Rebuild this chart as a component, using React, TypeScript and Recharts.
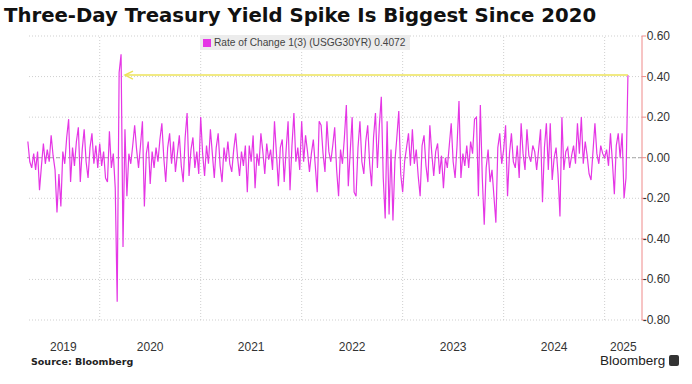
import {
  LineChart,
  Line,
  XAxis,
  YAxis,
  ReferenceLine,
} from "recharts";

// weekly 3-day rate of change of the 30Y Treasury yield
const v2019 = [
  0.08, -0.02, -0.05, 0.02, -0.06, 0.03, -0.16, -0.04, 0.07, -0.03, 0.04, -0.02, 0.11,
  0.01, -0.06, -0.27, -0.08, -0.24, 0.03, -0.03, 0.10, 0.19, -0.12, 0.05, -0.04, 0.08,
  0.15, -0.12, 0.04, 0.14, -0.02, -0.10, 0.05, 0.12, -0.03, 0.06, -0.05,
];
const v2020 = [
  0.07, -0.04, 0.03, -0.10, -0.12, 0.13, -0.05, 0.02, -0.15, -0.71, 0.42, 0.51, -0.44,
  0.14, -0.19, 0.02, -0.03, 0.06, 0.16, 0.04, -0.05, 0.06, 0.18, -0.24, 0.02, 0.08,
  -0.13, 0.03, -0.05, 0.05, -0.02, 0.09, 0.17, 0.0, -0.12, 0.05, 0.12, -0.03, 0.08,
  -0.07, 0.02, 0.11, -0.04, -0.12, 0.10, 0.22, -0.09, 0.04, 0.10, -0.05, 0.03, -0.08,
];
const v2021 = [
  0.20, 0.02, -0.09, 0.06, -0.03, 0.14, 0.02, -0.10, 0.05, 0.12, -0.04, -0.12, 0.05,
  -0.02, 0.08, -0.03, -0.07, 0.04, 0.12, 0.0, -0.09, 0.03, -0.04, 0.06, -0.17, 0.06,
  -0.02, 0.11, -0.15, 0.02, -0.04, 0.12, 0.03, -0.08, 0.07, -0.01, 0.04, -0.06, 0.18,
  0.02, -0.14, 0.05, 0.09, -0.12, 0.04, 0.18, -0.16, 0.06, 0.22, -0.02, 0.05, -0.06,
];
const v2022 = [
  0.18, -0.02, 0.11, 0.03, -0.07, 0.02, 0.09, -0.04, -0.17, 0.18, 0.16, 0.02, -0.07,
  0.18, 0.03, -0.02, 0.06, 0.15, -0.06, -0.19, 0.04, -0.03, 0.10, 0.26, -0.14, 0.03,
  0.20, -0.17, -0.19, 0.05, 0.18, -0.02, -0.08, 0.08, 0.16, -0.03, -0.14, 0.10, 0.22,
  -0.05, 0.16, 0.30, -0.10, -0.30, 0.18, -0.28, 0.04, -0.31, -0.02, 0.10, 0.23, -0.08,
];
const v2023 = [
  -0.17, -0.02, 0.05, 0.12, -0.04, 0.14, -0.03, 0.04, -0.09, -0.19, 0.06, 0.11, -0.04,
  -0.12, 0.16, 0.02, -0.09, 0.03, 0.07, -0.08, 0.01, -0.15, 0.0, -0.05, 0.06, 0.17,
  -0.02, -0.10, 0.06, 0.28, -0.10, 0.02, -0.04, 0.06, -0.05, 0.08, 0.02, 0.19, 0.20,
  -0.19, 0.26, -0.10, -0.33, -0.05, 0.04, -0.12, -0.06, -0.19, -0.32, 0.05, 0.12, -0.03,
];
const v2024 = [
  0.04, 0.16, -0.19, 0.02, 0.12, -0.02, -0.05, 0.06, -0.10, 0.17, 0.02, -0.06, 0.14,
  0.01, -0.02, 0.06, 0.03, -0.06, 0.04, 0.14, -0.22, 0.05, 0.17, -0.06, 0.17, -0.11,
  0.0, 0.05, -0.08, -0.29, 0.20, -0.06, 0.03, 0.05, -0.05, 0.01, 0.06, -0.03, 0.17,
  0.02, 0.20, -0.03, 0.08, 0.01, -0.08, -0.11, 0.03, 0.17, 0.02, -0.03, 0.06, 0.02,
];
const v2025 = [0.0, 0.04, -0.04, 0.12, -0.02, -0.18, 0.06, 0.12, 0.0, 0.12, -0.20, -0.10, 0.4072];

const YEARS = [2019, 2020, 2021, 2022, 2023, 2024, 2025];
const SERIES = [v2019, v2020, v2021, v2022, v2023, v2024, v2025];
const FIRST_WEEK = [15, 0, 0, 0, 0, 0, 0];

const X_DOMAIN = [2019.28, 2025.37];
const YEAR_LINES = [2020, 2021, 2022, 2023, 2024, 2025];
const YEAR_LABEL_AT = [2019.64, 2020.5, 2021.5, 2022.5, 2023.5, 2024.5, 2025.185];
const Y_MAJOR = [-0.8, -0.6, -0.4, -0.2, 0, 0.2, 0.4, 0.6];
const Y_TICKS = [-0.8, -0.7, -0.6, -0.5, -0.4, -0.3, -0.2, -0.1, 0, 0.1, 0.2, 0.3, 0.4, 0.5, 0.6];

const LAST = 0.4072;
const ARROW_FROM = 2020.25;
const ARROW_TO = 2025 + 12 / 52;

const data = YEARS.flatMap((yr, i) =>
  SERIES[i].map((v, k) => ({ t: yr + (FIRST_WEEK[i] + k) / 52, v }))
);

const MAGENTA = "#e536e5";
const AXIS_RED = "#ef8a8a";
const GRID = "#cfcfcf";
const YELLOW = "#ece35a";

function RightTick({ x, y, payload }: any) {
  const major = Y_MAJOR.some((m) => Math.abs(m - payload.value) < 1e-6);
  if (!major) return <g />;
  return (
    <text x={x + 22} y={y} dy={4} textAnchor="end" fontSize={12} fill="#333" fontFamily="Liberation Sans, Arial, sans-serif">
      {payload.value.toFixed(2)}
    </text>
  );
}

function ArrowHead({ viewBox }: any) {
  const { x, y } = viewBox;
  return (
    <path d={`M${x + 8},${y - 4} L${x},${y} L${x + 8},${y + 4}`} fill="none" stroke={YELLOW} strokeWidth={1.5} />
  );
}

export default function App() {
  return (
    <div style={{ position: "absolute", left: 0, top: 0, width: 692, height: 384, background: "#fff", overflow: "hidden" }}>
      <div
        style={{
          position: "absolute",
          left: 4,
          top: 4,
          fontFamily: "DejaVu Sans, sans-serif",
          fontWeight: 700,
          fontSize: 19.7,
          color: "#111",
          whiteSpace: "nowrap",
        }}
      >
        Three-Day Treasury Yield Spike Is Biggest Since 2020
      </div>

      <LineChart width={692} height={384} data={data} margin={{ top: 36, right: 5, bottom: 34, left: 27 }}>
        {Y_MAJOR.map((y) => (
          <ReferenceLine key={"h" + y} y={y} stroke={GRID} strokeDasharray="1 2" />
        ))}
        {YEAR_LINES.map((x) => (
          <ReferenceLine key={"v" + x} x={x} stroke={GRID} strokeDasharray="1 2" />
        ))}
        <ReferenceLine y={0} stroke="#a8a8a8" strokeDasharray="4 2" />
        <XAxis
          dataKey="t"
          type="number"
          domain={X_DOMAIN}
          ticks={YEAR_LABEL_AT}
          tickFormatter={(v) => String(Math.floor(v))}
          axisLine={false}
          tickLine={false}
          height={30}
          tickMargin={16}
          tick={{ fontSize: 12, fill: "#333", fontFamily: "Liberation Sans, Arial, sans-serif" }}
          allowDataOverflow
        />
        <YAxis
          orientation="right"
          domain={[-0.8, 0.6]}
          ticks={Y_TICKS}
          width={45}
          axisLine={{ stroke: AXIS_RED }}
          tickLine={{ stroke: AXIS_RED }}
          tickSize={4}
          tickMargin={2}
          tick={<RightTick />}
          allowDataOverflow
        />
        <Line
          type="linear"
          dataKey="v"
          stroke={MAGENTA}
          strokeWidth={1.2}
          dot={false}
          isAnimationActive={false}
        />
        <ReferenceLine
          segment={[
            { x: ARROW_FROM, y: LAST },
            { x: ARROW_TO, y: LAST },
          ]}
          stroke={YELLOW}
          strokeWidth={1.5}
          label={<ArrowHead />}
        />
      </LineChart>

      <div
        style={{
          position: "absolute",
          left: 200,
          top: 35,
          height: 15,
          background: "#ececec",
          display: "flex",
          alignItems: "center",
          padding: "0 5px 0 3px",
          fontFamily: "Liberation Sans, Arial, sans-serif",
          fontSize: 10.2,
          color: "#444",
          whiteSpace: "nowrap",
        }}
      >
        <span
          style={{ width: 8, height: 8, flexShrink: 0, background: MAGENTA, marginRight: 3, display: "inline-block" }}
        />
        <span style={{ flexShrink: 0 }}>Rate of Change 1(3) (USGG30YR) {LAST}</span>
      </div>

      <div
        style={{
          position: "absolute",
          left: 31,
          top: 356,
          fontFamily: "DejaVu Sans, sans-serif",
          fontWeight: 700,
          fontSize: 9.5,
          color: "#222",
        }}
      >
        Source: Bloomberg
      </div>
      <div
        style={{
          position: "absolute",
          left: 600,
          top: 354,
          fontFamily: "Liberation Sans, Arial, sans-serif",
          fontSize: 13.5,
          lineHeight: "13px",
          color: "#222",
          display: "flex",
          alignItems: "center",
        }}
      >
        Bloomberg
        <span
          style={{
            display: "inline-block",
            width: 10,
            height: 11,
            background: "#333",
            borderRadius: 2,
            marginLeft: 4,
          }}
        />
      </div>
    </div>
  );
}
